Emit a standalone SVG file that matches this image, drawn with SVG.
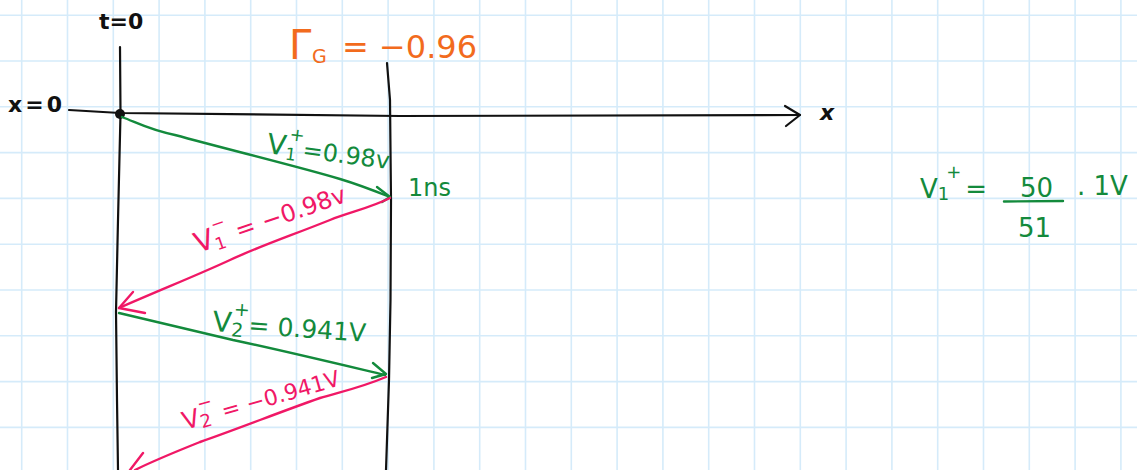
<svg xmlns="http://www.w3.org/2000/svg" width="1137" height="470" viewBox="0 0 1137 470">
<defs>
<style>
.grid line{stroke:#d5ebfa;stroke-width:1.6}
.ink{fill:none;stroke:#111;stroke-width:2.2;stroke-linecap:round;stroke-linejoin:round}
.g{fill:none;stroke:#138a3c;stroke-width:2.4;stroke-linecap:round;stroke-linejoin:round}
.p{fill:none;stroke:#f01866;stroke-width:2.4;stroke-linecap:round;stroke-linejoin:round}
text{font-family:"DejaVu Sans","Liberation Sans",sans-serif}
.tk{fill:#111}
.tg{fill:#138a3c}
.tp{fill:#f01866}
.to{fill:#f26b1d}
</style>
</defs>
<rect width="1137" height="470" fill="#ffffff"/>
<g id="grid" class="grid">
<line x1="21.7" y1="0" x2="21.7" y2="470"/><line x1="67.5" y1="0" x2="67.5" y2="470"/><line x1="113.3" y1="0" x2="113.3" y2="470"/><line x1="159.1" y1="0" x2="159.1" y2="470"/><line x1="204.9" y1="0" x2="204.9" y2="470"/><line x1="250.7" y1="0" x2="250.7" y2="470"/><line x1="296.5" y1="0" x2="296.5" y2="470"/><line x1="342.3" y1="0" x2="342.3" y2="470"/><line x1="388.1" y1="0" x2="388.1" y2="470"/><line x1="433.9" y1="0" x2="433.9" y2="470"/><line x1="479.7" y1="0" x2="479.7" y2="470"/><line x1="525.5" y1="0" x2="525.5" y2="470"/><line x1="571.3" y1="0" x2="571.3" y2="470"/><line x1="617.1" y1="0" x2="617.1" y2="470"/><line x1="662.9" y1="0" x2="662.9" y2="470"/><line x1="708.7" y1="0" x2="708.7" y2="470"/><line x1="754.5" y1="0" x2="754.5" y2="470"/><line x1="800.3" y1="0" x2="800.3" y2="470"/><line x1="846.1" y1="0" x2="846.1" y2="470"/><line x1="891.9" y1="0" x2="891.9" y2="470"/><line x1="937.7" y1="0" x2="937.7" y2="470"/><line x1="983.5" y1="0" x2="983.5" y2="470"/><line x1="1029.3" y1="0" x2="1029.3" y2="470"/><line x1="1075.1" y1="0" x2="1075.1" y2="470"/><line x1="1120.9" y1="0" x2="1120.9" y2="470"/>
<line x1="0" y1="15.2" x2="1137" y2="15.2"/><line x1="0" y1="61" x2="1137" y2="61"/><line x1="0" y1="106.8" x2="1137" y2="106.8"/><line x1="0" y1="152.6" x2="1137" y2="152.6"/><line x1="0" y1="198.4" x2="1137" y2="198.4"/><line x1="0" y1="244.2" x2="1137" y2="244.2"/><line x1="0" y1="290" x2="1137" y2="290"/><line x1="0" y1="335.8" x2="1137" y2="335.8"/><line x1="0" y1="381.6" x2="1137" y2="381.6"/><line x1="0" y1="427.4" x2="1137" y2="427.4"/>
</g>
<g id="axes">
<path class="ink" d="M120 47 L120.5 114 L118 220 L116 312 L117 400 L118 470"/>
<path class="ink" d="M387 63 L390 100 L391 200 L390.5 300 L389 380 L386 470"/>
<path class="ink" d="M69 110 L120 113 L400 116 L800 115"/>
<path class="ink" d="M785 106 L800 115 L786 126"/>
<circle cx="120" cy="114" r="5" fill="#111"/>
</g>
<g id="connectors">
<path class="g" d="M122 117 C140 124 150 130 175 135 C230 150 300 167 340 179 C360 185 375 191 390 197"/>
<path class="g" d="M377 187 L390 197 L382 202"/>
<path class="p" d="M390 198 C370 208 350 212 330 220 C290 236 260 246 230 260 C200 274 160 290 119 308"/>
<path class="p" d="M133 292 L119 308 L145 313"/>
<path class="g" d="M119 313 C150 320 190 330 233 340 C280 350 330 362 385 375"/>
<path class="g" d="M373 363 L386 374 L372 378"/>
<path class="p" d="M386 377 C360 388 340 392 320 398 C280 412 240 428 200 442 C175 452 155 460 135 470"/>
<path class="p" d="M143 453 L130 470"/>
</g>
<g id="labels">
<text class="tk" x="99" y="29" font-size="22" font-weight="bold">t=0</text>
<text class="tk" x="8" y="112" font-size="22" textLength="54" font-weight="bold">x=0</text>
<text class="tk" x="820" y="120" font-size="22" font-style="italic" font-weight="bold">x</text>
<g id="gamma">
<text class="to" x="289" y="59" font-size="40">Γ</text>
<text class="to" x="312" y="63" font-size="19">G</text>
<text class="to" x="342" y="58" font-size="32">= −0.96</text>
</g>
<text class="tg" transform="translate(266,153) rotate(7.5)" font-size="24"><tspan font-size="28">V</tspan><tspan font-size="17" dy="4">1</tspan><tspan font-size="18" dx="-9" dy="-20">+</tspan><tspan dy="16">=0.98v</tspan></text>
<text class="tg" x="408" y="196" font-size="24">1ns</text>
<text class="tp" transform="translate(198,253) rotate(-19)" font-size="24"><tspan font-size="28">V</tspan><tspan font-size="17" dy="4">1</tspan><tspan font-size="17" dx="-9" dy="-20">−</tspan><tspan dy="16"> = −0.98v</tspan></text>
<text class="tg" transform="translate(212,331) rotate(4)" font-size="25"><tspan font-size="28">V</tspan><tspan font-size="19" dy="4">2</tspan><tspan font-size="19" dx="-11" dy="-21">+</tspan><tspan dy="17">= 0.941V</tspan></text>
<text class="tp" transform="translate(185,430) rotate(-16)" font-size="22"><tspan font-size="25">V</tspan><tspan font-size="18" dy="3">2</tspan><tspan font-size="18" dx="-10" dy="-18">−</tspan><tspan dy="15"> = −0.941V</tspan></text>
<g id="formula">
<text class="tg" x="920" y="198" font-size="26">V<tspan font-size="18" dy="2">1</tspan><tspan font-size="18" dx="-3" dy="-22">+</tspan><tspan dx="4" dy="20">=</tspan></text>
<text class="tg" x="1020" y="197" font-size="26">50</text>
<line x1="1004" y1="201.5" x2="1063" y2="201" stroke="#138a3c" stroke-width="2.4" stroke-linecap="round"/>
<text class="tg" x="1018" y="237" font-size="26">51</text>
<text class="tg" x="1077" y="195" font-size="26">. 1V</text>
</g>
</g>
</svg>
